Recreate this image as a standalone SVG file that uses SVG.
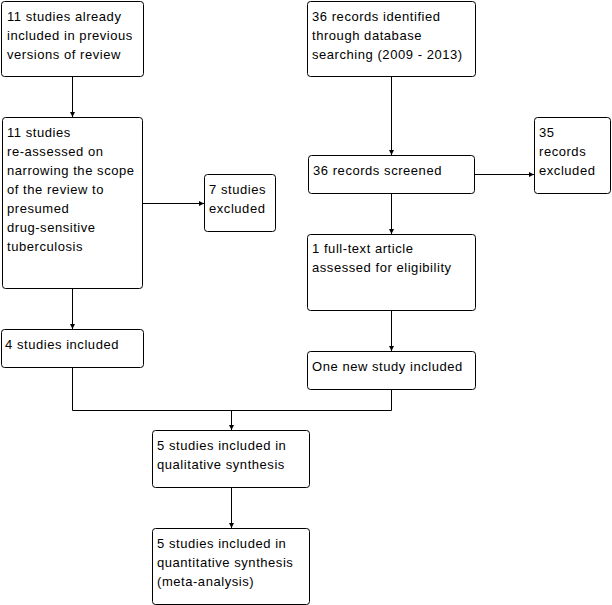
<svg xmlns="http://www.w3.org/2000/svg" width="612" height="605" viewBox="0 0 612 605">
<style>
.box{fill:#fff;stroke:#000;stroke-width:1}
.t{font-family:"Liberation Sans",Arial,sans-serif;font-size:13px;letter-spacing:0.55px;fill:#000}
.c{fill:none;stroke:#000;stroke-width:1}
</style>
<defs>
<marker id="a" markerWidth="6" markerHeight="6" refX="5" refY="3" orient="auto" markerUnits="userSpaceOnUse">
<path d="M0,0.5 L5,3 L0,5.5 Z" fill="#000"/>
</marker>
</defs>
<rect width="612" height="605" fill="#fff"/>
<g id="connectors">
<path class="c" d="M72.5,76 V117" marker-end="url(#a)"/>
<path class="c" d="M143,203.5 H204" marker-end="url(#a)"/>
<path class="c" d="M72.5,288 V329" marker-end="url(#a)"/>
<path class="c" d="M391.5,76 V155" marker-end="url(#a)"/>
<path class="c" d="M474,174.5 H534" marker-end="url(#a)"/>
<path class="c" d="M391.5,193 V234" marker-end="url(#a)"/>
<path class="c" d="M391.5,310 V351" marker-end="url(#a)"/>
<path class="c" d="M72.5,367 V410.5 H391.5 V389"/>
<path class="c" d="M231.5,410.5 V430" marker-end="url(#a)"/>
<path class="c" d="M231.5,487 V528" marker-end="url(#a)"/>
</g>
<g id="n1"><rect class="box" x="1.5" y="1.5" width="142" height="75" rx="3"/>
<text class="t" x="7" y="21">11 studies already</text><text class="t" x="7" y="40">included in previous</text><text class="t" x="7" y="59">versions of review</text></g>
<g id="n2"><rect class="box" x="2.5" y="117.5" width="140" height="171" rx="3"/>
<text class="t" x="7" y="137">11 studies</text><text class="t" x="7" y="156">re-assessed on</text><text class="t" x="7" y="175">narrowing the scope</text><text class="t" x="7" y="194">of the review to</text><text class="t" x="7" y="213">presumed</text><text class="t" x="7" y="232">drug-sensitive</text><text class="t" x="7" y="251">tuberculosis</text></g>
<g id="n3"><rect class="box" x="204.5" y="174.5" width="71" height="57" rx="3"/>
<text class="t" x="209" y="194">7 studies</text><text class="t" x="209" y="213">excluded</text></g>
<g id="n4"><rect class="box" x="1.5" y="329.5" width="142" height="38" rx="3"/>
<text class="t" x="5" y="349">4 studies included</text></g>
<g id="n5"><rect class="box" x="307.5" y="1.5" width="168" height="75" rx="3"/>
<text class="t" x="312" y="21">36 records identified</text><text class="t" x="312" y="40">through database</text><text class="t" x="312" y="59">searching (2009 - 2013)</text></g>
<g id="n6"><rect class="box" x="308.5" y="155.5" width="166" height="38" rx="3"/>
<text class="t" x="313" y="175">36 records screened</text></g>
<g id="n7"><rect class="box" x="534.5" y="117.5" width="76" height="76" rx="3"/>
<text class="t" x="539" y="137">35</text><text class="t" x="539" y="156">records</text><text class="t" x="539" y="175">excluded</text></g>
<g id="n8"><rect class="box" x="307.5" y="234.5" width="168" height="76" rx="3"/>
<text class="t" x="312" y="253">1 full-text article</text><text class="t" x="312" y="272">assessed for eligibility</text></g>
<g id="n9"><rect class="box" x="307.5" y="351.5" width="168" height="38" rx="3"/>
<text class="t" x="312" y="371">One new study included</text></g>
<g id="n10"><rect class="box" x="152.5" y="430.5" width="157" height="57" rx="3"/>
<text class="t" x="157" y="450">5 studies included in</text><text class="t" x="157" y="469">qualitative synthesis</text></g>
<g id="n11"><rect class="box" x="152.5" y="528.5" width="157" height="76" rx="3"/>
<text class="t" x="157" y="548">5 studies included in</text><text class="t" x="157" y="567">quantitative synthesis</text><text class="t" x="157" y="586">(meta-analysis)</text></g>
</svg>
